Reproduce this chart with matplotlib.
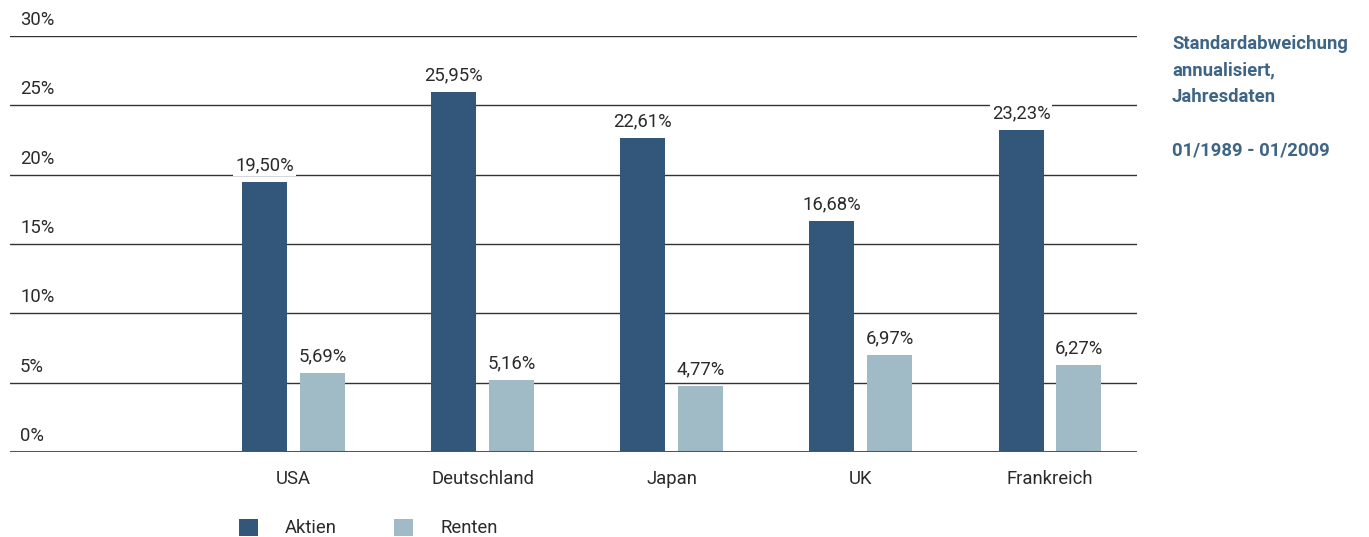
import matplotlib.pyplot as plt
from matplotlib.patches import Patch
from matplotlib.transforms import blended_transform_factory

plt.rcParams['font.family'] = ['Roboto', 'DejaVu Sans']

categories = ["USA", "Deutschland", "Japan", "UK", "Frankreich"]
aktien = [19.50, 25.95, 22.61, 16.68, 23.23]
renten = [5.69, 5.16, 4.77, 6.97, 6.27]
yticks = [0, 5, 10, 15, 20, 25, 30]

c_aktien = "#33577a"
c_renten = "#a0bac6"
c_note = "#3e6586"
c_text = "#2b2b2b"
fs = 13.3

W, H = 1369, 537
fig = plt.figure(figsize=(W / 100, H / 100), dpi=100)
ax = fig.add_axes([10 / W, (H - 452) / H, (1137 - 10) / W, (452 - 36) / H])

x = list(range(1, len(categories) + 1))
bw = 0.238
off = 0.153
xa = [v - off for v in x]
xr = [v + off for v in x]

ax.set_xlim(-0.5, 5.46)
ax.set_ylim(0, 30)

# horizontal grid lines
for t in yticks[1:]:
    ax.axhline(t, color="#333333", lw=1.0, zorder=1)
ax.axhline(0, color="#555555", lw=2.2, zorder=4)

ax.bar(xa, aktien, width=bw, color=c_aktien, zorder=3)
ax.bar(xr, renten, width=bw, color=c_renten, zorder=3)

def fmt(v):
    return f"{v:.2f}%".replace(".", ",")

for xs, vals in ((xa, aktien), (xr, renten)):
    for xv, v in zip(xs, vals):
        ax.annotate(fmt(v), (xv, v), xytext=(0, 5.5), textcoords="offset points",
                    ha="center", va="bottom", fontsize=fs, color=c_text,
                    bbox=dict(facecolor="white", edgecolor="none", pad=1.5),
                    zorder=5)

# y labels sit above their grid lines at the left edge
tr = blended_transform_factory(fig.transFigure, ax.transData)
for t in yticks:
    ax.annotate(f"{t}%", (20 / W, t), xycoords=tr, xytext=(0, 5),
                textcoords="offset points", ha="left", va="bottom",
                fontsize=fs, color=c_text)

ax.set_yticks([])
ax.set_xticks(x)
ax.set_xticklabels(categories, fontsize=fs, color=c_text)
ax.tick_params(axis="x", length=0, pad=13)
for s in ax.spines.values():
    s.set_visible(False)

handles = [Patch(facecolor=c_aktien, edgecolor="none"),
           Patch(facecolor=c_renten, edgecolor="none")]
fig.legend(handles, ["Aktien", "Renten"], loc="center left",
           bbox_to_anchor=(222 / W, 1 - 528 / H), ncol=2, frameon=False,
           fontsize=fs, handlelength=1.05, handleheight=1.05,
           handletextpad=1.45, columnspacing=3.1, labelcolor=c_text)

fig.text(1172 / W, 1 - 35 / H,
         "Standardabweichung\nannualisiert,\nJahresdaten\n\n01/1989 - 01/2009",
         ha="left", va="top", fontsize=13.3, fontweight="bold", color=c_note,
         linespacing=1.62)

fig.savefig("out.png", dpi=100)
